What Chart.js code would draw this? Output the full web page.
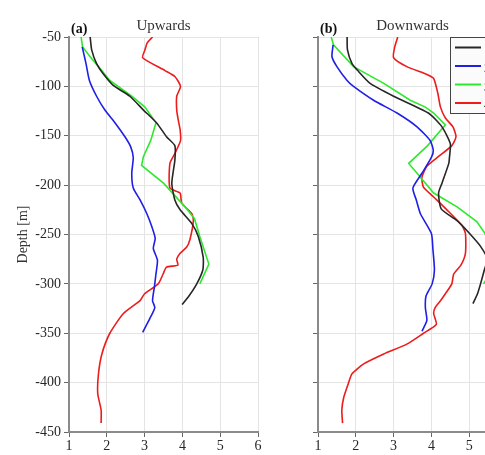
<!DOCTYPE html>
<html>
<head>
<meta charset="utf-8">
<script src="https://cdn.jsdelivr.net/npm/chart.js@4"></script>
<style>
  html, body { margin: 0; padding: 0; background: #fff; overflow: hidden; }
  #wrap { position: relative; width: 485px; height: 455px; overflow: hidden; }
  canvas { position: absolute; top: 0; }
  #upChart { left: 0; }
  #downChart { left: 270px; }
</style>
</head>
<body>
<div id="wrap">
  <canvas id="upChart" width="270" height="455"></canvas>
  <canvas id="downChart" width="250" height="455"></canvas>
</div>
<script>
// series labels (legend text is cut off at the right edge in the original)
const seriesNames = ["1", "2", "3", "4"];
const seriesColors = ["#262626", "#1f1fe6", "#2ee82e", "#ec1c1c"];

const xTicks = [1, 2, 3, 4, 5, 6];
const yTicks = [-50, -100, -150, -200, -250, -300, -350, -400, -450];

// (a) Upwards
const upBlackDepth = [-50,-63,-77,-87,-99,-110,-124,-137,-151,-160,-175,-198,-215,-225,-239,-252,-273,-286,-300,-313,-321];
const upBlackVal   = [1.56,1.6,1.73,1.9,2.17,2.61,2.97,3.32,3.58,3.8,3.8,3.72,3.8,3.94,4.25,4.42,4.55,4.54,4.38,4.16,3.99];

const upBlueDepth = [-60,-77,-94,-110,-124,-137,-151,-161,-172,-188,-203,-215,-229,-242,-254,-264,-276,-290,-303,-317,-324,-335,-349];
const upBlueVal   = [1.35,1.45,1.54,1.73,1.95,2.22,2.48,2.63,2.7,2.66,2.7,2.88,3.06,3.19,3.28,3.23,3.34,3.3,3.26,3.21,3.27,3.14,2.95];

const upGreenDepth = [-50,-60,-70,-80,-94,-110,-121,-137,-155,-171,-180,-198,-222,-234,-252,-280,-300];
const upGreenVal   = [1.32,1.36,1.56,1.78,2.08,2.66,3.01,3.3,3.16,2.97,2.92,3.5,4.07,4.32,4.46,4.7,4.46];

const upRedDepth = [-50,-56,-63,-71,-84,-90,-100,-110,-124,-134,-144,-155,-168,-178,-203,-208,-218,-229,-236,-255,-263,-269,-275,-281,-283,-290,-300,-310,-317,-330,-350,-371,-391,-411,-428,-441];
const upRedVal   = [3.21,3.07,3.01,2.95,3.54,3.8,3.95,3.85,3.85,3.89,3.94,3.95,3.8,3.67,3.67,3.94,3.98,4.25,4.29,4.2,4.11,3.94,3.85,3.88,3.58,3.49,3.36,3.0,2.88,2.44,2.08,1.87,1.78,1.76,1.85,1.85];

// (b) Downwards
const downBlackDepth = [-50,-63,-77,-84,-97,-110,-127,-141,-158,-171,-178,-198,-208,-224,-236,-249,-262,-275,-286,-300,-310,-320];
const downBlackVal   = [1.77,1.78,1.9,2.05,2.38,3.0,3.92,4.28,4.5,4.48,4.46,4.28,4.19,4.26,4.68,5.01,5.3,5.48,5.4,5.3,5.22,5.1];

const downBlueDepth = [-58,-70,-80,-94,-100,-114,-127,-141,-155,-165,-172,-188,-203,-215,-229,-249,-265,-286,-300,-312,-324,-337,-348];
const downBlueVal   = [1.4,1.37,1.5,1.77,1.94,2.47,3.09,3.62,3.97,4.05,4.0,3.75,3.51,3.6,3.71,4.0,4.04,4.08,4.02,3.86,3.84,3.88,3.75];

const downGreenDepth = [-50,-58,-80,-97,-114,-121,-127,-139,-160,-178,-188,-208,-222,-237,-249,-280,-300];
const downGreenVal   = [1.35,1.41,1.94,2.74,3.44,3.84,4.06,4.37,3.9,3.4,3.62,4.06,4.68,5.2,5.42,5.7,5.38];

const downRedDepth = [-50,-60,-71,-80,-88,-92,-107,-121,-132,-141,-151,-160,-171,-181,-192,-202,-212,-225,-241,-249,-269,-281,-290,-300,-310,-317,-324,-330,-341,-350,-361,-371,-381,-391,-400,-415,-428,-441];
const downRedVal   = [3.11,3.03,3.0,3.35,3.88,4.06,4.17,4.24,4.37,4.57,4.65,4.54,4.19,3.88,3.75,3.79,4.06,4.41,4.81,4.9,4.9,4.78,4.59,4.54,4.37,4.24,4.1,4.06,4.13,3.79,3.35,2.74,2.21,1.9,1.81,1.68,1.63,1.65];

const serif = "'Liberation Serif', 'DejaVu Serif', serif";

function pts(vals, depths) {
    const n = Math.min(vals.length, depths.length);
    const out = [];
    for (let i = 0; i < n; i++) out.push({ x: vals[i], y: depths[i] });
    return out;
}

function makeSets(lists) {
    return lists.map((l, i) => ({
        label: seriesNames[i],
        data: pts(l[0], l[1]),
        borderColor: seriesColors[i],
        backgroundColor: seriesColors[i],
        borderWidth: 1.6,
        pointRadius: 0,
        showLine: true,
        tension: i === 2 ? 0 : 0.2
    }));
}

// panel title + letter, drawn over the plot area
const panelText = {
    id: 'panelText',
    afterDraw(chart, args, opts) {
        const ctx = chart.ctx;
        const a = chart.chartArea;
        ctx.save();
        ctx.fillStyle = '#333';
        ctx.font = '15px ' + serif;
        ctx.textAlign = 'center';
        ctx.textBaseline = 'alphabetic';
        ctx.fillText(opts.title, (a.left + a.right) / 2, 30);
        ctx.fillStyle = '#111';
        ctx.font = 'bold 14px ' + serif;
        ctx.textAlign = 'left';
        ctx.fillText(opts.letter, a.left + 2, 33);
        ctx.restore();
    }
};

// legend box inside panel (b)
const boxLegend = {
    id: 'boxLegend',
    afterDraw(chart, args, opts) {
        if (!opts.show) return;
        const ctx = chart.ctx;
        const x0 = 180, y0 = 37;
        ctx.save();
        ctx.fillStyle = '#fbfbfb';
        ctx.strokeStyle = '#444';
        ctx.lineWidth = 1;
        ctx.fillRect(x0, y0, 90, 77);
        ctx.strokeRect(x0 + 0.5, y0 + 0.5, 90, 76);
        const rows = [47.5, 66, 84.5, 103];
        chart.data.datasets.forEach((ds, i) => {
            ctx.strokeStyle = ds.borderColor;
            ctx.lineWidth = 2;
            ctx.beginPath();
            ctx.moveTo(x0 + 5, rows[i]);
            ctx.lineTo(x0 + 31, rows[i]);
            ctx.stroke();
            ctx.fillStyle = '#222';
            ctx.font = '12px ' + serif;
            ctx.textBaseline = 'middle';
            ctx.fillText(ds.label, x0 + 34, rows[i] + 3);
        });
        ctx.restore();
    }
};

function makeChart(id, lists, title, letter, axisWidth, padRight, showYLabels, showLegend) {
    return new Chart(id, {
        type: 'scatter',
        data: { datasets: makeSets(lists) },
        options: {
            responsive: false,
            animation: false,
            devicePixelRatio: 1,
            layout: { padding: { top: 37, right: padRight, left: 0, bottom: 0 } },
            plugins: {
                legend: { display: false },
                tooltip: { enabled: false },
                panelText: { title: title, letter: letter },
                boxLegend: { show: showLegend }
            },
            scales: {
                x: {
                    type: 'linear',
                    min: 1, max: 6,
                    afterBuildTicks: s => { s.ticks = xTicks.map(v => ({ value: v })); },
                    afterFit: s => { s.height = 23; },
                    grid: { color: '#e4e4e4', tickColor: '#666', tickLength: 5 },
                    border: { color: '#8a8a8a', width: 2 },
                    ticks: { color: '#262626', font: { family: serif, size: 14 }, padding: 1 }
                },
                y: {
                    type: 'linear',
                    min: -450, max: -50,
                    afterBuildTicks: s => { s.ticks = yTicks.map(v => ({ value: v })); },
                    afterFit: s => { s.width = axisWidth; },
                    grid: { color: '#e4e4e4', tickColor: '#666', tickLength: 5 },
                    border: { color: '#8a8a8a', width: 2 },
                    ticks: {
                        color: '#262626',
                        font: { family: serif, size: 14 },
                        padding: 3,
                        callback: v => showYLabels ? v : ''
                    },
                    title: {
                        display: showYLabels,
                        text: 'Depth [m]',
                        color: '#333',
                        font: { family: serif, size: 14 },
                        padding: { top: 15, bottom: 0 }
                    }
                }
            }
        },
        plugins: [panelText, boxLegend]
    });
}

makeChart('upChart', [
    [upBlackVal, upBlackDepth],
    [upBlueVal, upBlueDepth],
    [upGreenVal, upGreenDepth],
    [upRedVal, upRedDepth]
], 'Upwards', '(a)', 69, 12, true, false);

makeChart('downChart', [
    [downBlackVal, downBlackDepth],
    [downBlueVal, downBlueDepth],
    [downGreenVal, downGreenDepth],
    [downRedVal, downRedDepth]
], 'Downwards', '(b)', 48, 13, false, true);
</script>
</body>
</html>
